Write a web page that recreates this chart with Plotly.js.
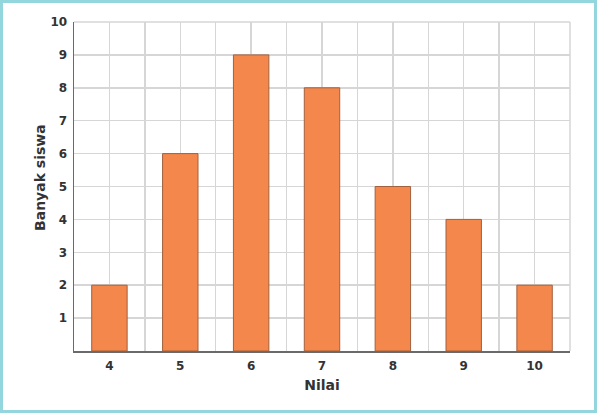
<!DOCTYPE html>
<html>
<head>
<meta charset="utf-8">
<script src="https://cdn.plot.ly/plotly-3.0.1.min.js"></script>
<style>
  html, body { margin: 0; padding: 0; background: #ffffff; }
  #wrap { position: relative; width: 597px; height: 413px; }
  #chart { position: absolute; left: 0; top: 0; width: 597px; height: 413px; }
  #frame { position: absolute; left: 0; top: 0; width: 597px; height: 413px; box-sizing: border-box;
           border: 3px solid #93d6de; pointer-events: none; }
</style>
</head>
<body>
<div id="wrap">
  <div id="chart"></div>
  <div id="frame"></div>
</div>
<script>
const nilai = [4, 5, 6, 7, 8, 9, 10];
const banyakSiswa = [2, 6, 9, 8, 5, 4, 2];
const yTicks = [1, 2, 3, 4, 5, 6, 7, 8, 9, 10];
const xTitle = 'Nilai';
const yTitle = 'Banyak siswa';

const tickFont = { family: 'DejaVu Sans, Verdana, sans-serif', size: 12, color: '#333333', weight: 'bold' };
const titleFont = { family: 'DejaVu Sans, Verdana, sans-serif', size: 14, color: '#333333', weight: 'bold' };

const trace = {
  type: 'bar',
  x: nilai,
  y: banyakSiswa,
  width: 0.5,
  marker: { color: '#f4874b', line: { color: '#a2603e', width: 1 } },
  hoverinfo: 'x+y'
};

const layout = {
  width: 597,
  height: 413,
  margin: { l: 74, r: 27, t: 22, b: 62 },
  paper_bgcolor: '#ffffff',
  plot_bgcolor: '#ffffff',
  showlegend: false,
  bargap: 0,
  xaxis: {
    range: [3.5, 10.5],
    tickvals: nilai,
    ticktext: nilai.map(String),
    showgrid: true,
    gridcolor: '#d6d6d6',
    gridwidth: 1.5,
    minor: { dtick: 0.5, tick0: 0.5, showgrid: true, gridcolor: '#d6d6d6', gridwidth: 1.5, ticks: '' },
    showline: true,
    linecolor: '#6a6a6a',
    linewidth: 1.5,
    mirror: false,
    zeroline: false,
    ticks: 'outside',
    ticklen: 3,
    tickcolor: 'rgba(0,0,0,0)',
    tickfont: tickFont,
    title: { text: xTitle, font: titleFont, standoff: 8 },
    fixedrange: true
  },
  yaxis: {
    range: [0, 10],
    tickvals: yTicks,
    showgrid: true,
    gridcolor: '#d6d6d6',
    gridwidth: 1.5,
    showline: true,
    linecolor: '#6a6a6a',
    linewidth: 1.5,
    zeroline: false,
    ticks: 'outside',
    ticklen: 3,
    tickcolor: 'rgba(0,0,0,0)',
    tickfont: tickFont,
    fixedrange: true
  },
  annotations: [
    { text: yTitle, xref: 'paper', yref: 'paper', x: -0.0685, y: 0.526, xanchor: 'center', yanchor: 'middle',
      textangle: -90, showarrow: false, font: titleFont }
  ],
  shapes: [
    { type: 'line', xref: 'paper', yref: 'paper', x0: 1, x1: 1, y0: 0, y1: 1, line: { color: '#d6d6d6', width: 1.5 }, layer: 'below' },
    { type: 'line', xref: 'paper', yref: 'paper', x0: 0, x1: 1, y0: 1, y1: 1, line: { color: '#d6d6d6', width: 1.5 }, layer: 'below' }
  ]
};

Plotly.newPlot('chart', [trace], layout, { displayModeBar: false, staticPlot: true });
</script>
</body>
</html>
